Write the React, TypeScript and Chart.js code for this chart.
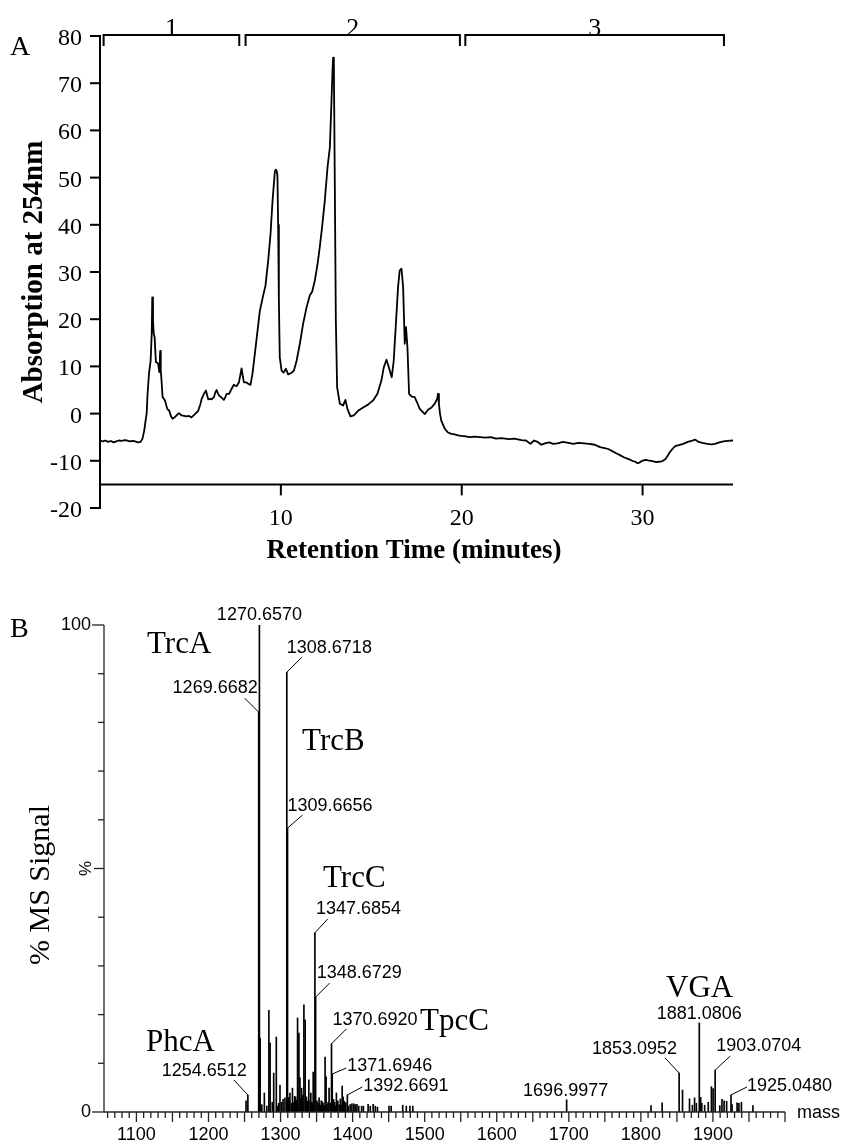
import React, { useEffect, useRef } from 'react';
import { Chart, registerables } from 'chart.js';
Chart.register(...registerables);

// ---------- Panel A: HPLC chromatogram ----------
const retentionMin = [
  0, 0.15, 0.3, 0.45, 0.6, 0.75, 0.9, 1.05, 1.2, 1.35, 1.5, 1.65, 1.8, 1.95, 2.1, 2.25, 2.35, 2.45, 2.52, 2.58,
  2.63, 2.71, 2.8, 2.86, 2.89, 2.93, 2.97, 3.02, 3.09, 3.16, 3.22, 3.28, 3.31, 3.33, 3.36, 3.39, 3.46, 3.59, 3.72, 3.83,
  3.92, 4.01, 4.12, 4.23, 4.36, 4.51, 4.65, 4.79, 4.92, 5.06, 5.25, 5.43, 5.55, 5.62, 5.75, 5.86, 5.93, 5.99, 6.08, 6.17,
  6.3, 6.38, 6.45, 6.52, 6.59, 6.72, 6.85, 6.93, 7.0, 7.14, 7.27, 7.4, 7.48, 7.55, 7.68, 7.76, 7.83, 7.9, 7.96, 8.1,
  8.2, 8.32, 8.43, 8.56, 8.69, 8.84, 9.02, 9.15, 9.3, 9.43, 9.54, 9.62, 9.67, 9.72, 9.77, 9.81, 9.85, 9.89, 9.94, 10.04,
  10.15, 10.28, 10.4, 10.58, 10.72, 10.87, 11.05, 11.23, 11.42, 11.6, 11.73, 11.88, 12.03, 12.15, 12.28, 12.43, 12.58, 12.71, 12.8, 12.86,
  12.89, 12.93, 12.98, 13.04, 13.11, 13.26, 13.44, 13.57, 13.68, 13.85, 14.03, 14.27, 14.55, 14.82, 15.1, 15.34, 15.56, 15.69, 15.84, 15.97,
  16.13, 16.24, 16.35, 16.48, 16.57, 16.67, 16.76, 16.85, 16.92, 17.0, 17.09, 17.24, 17.4, 17.53, 17.68, 17.96, 18.14, 18.33, 18.51, 18.65,
  18.69, 18.74, 18.8, 18.87, 19.06, 19.24, 19.43, 19.61, 19.8, 19.98, 20.2, 20.44, 20.7, 21.0, 21.3, 21.6, 21.9, 22.2, 22.6, 22.9,
  23.3, 23.55, 23.8, 24.0, 24.2, 24.4, 24.6, 24.84, 25.05, 25.3, 25.6, 25.9, 26.17, 26.45, 26.76, 27.05, 27.36, 27.65, 27.9, 28.1,
  28.3, 28.54, 28.75, 28.99, 29.2, 29.43, 29.6, 29.72, 29.82, 29.93, 30.05, 30.17, 30.3, 30.47, 30.6, 30.76, 30.9, 31.06, 31.17, 31.27,
  31.38, 31.5, 31.65, 31.8, 32.0, 32.25, 32.5, 32.7, 32.9, 33.1, 33.3, 33.58, 33.8, 34.0, 34.25, 34.47, 34.7, 35.0,
];
const absorbance254 = [
  -5.6, -5.9, -5.7, -6.0, -5.8, -6.1, -5.9, -5.7, -5.8, -5.6, -5.7, -5.9, -5.8, -5.9, -6.1, -6.0, -5.3, -3.5, -1.5, 0,
  4.2, 8.5, 11.2, 17, 24.6, 20, 16.9, 16.2, 10.9, 10.8, 10.5, 8.8, 12, 13.3, 9, 7.7, 3.5, 2.8, 1, 0.6,
  -0.5, -1.1, -0.8, -0.4, 0.1, -0.4, -0.5, -0.6, -0.5, -0.8, -0.1, 0.6, 2, 3.1, 4.2, 4.9, 3.8, 3, 3.1, 3,
  3.5, 4.5, 5, 4.3, 3.8, 3.4, 2.9, 3.5, 4.2, 4.2, 5.2, 6.1, 5.9, 5.8, 6.6, 8.2, 9.6, 7.8, 6.6, 6.6,
  6.3, 6.1, 8.4, 12.6, 16.9, 21.8, 25, 27.1, 32.4, 38.1, 45.1, 49, 51.3, 51.7, 51.4, 50.5, 40, 24, 11.9, 9.1,
  8.7, 9.5, 8.3, 8.6, 9.1, 11.2, 14.8, 19, 22.5, 25, 25.8, 28.2, 31.7, 35.2, 39.5, 45.1, 52.2, 56.4, 66.3, 73,
  75.4, 74.5, 50, 20, 5.6, 2.1, 1.7, 2.9, 1, -0.6, -0.4, 0.6, 1.3, 1.9, 2.8, 4.2, 7, 9.8, 11.4, 9.8,
  7.7, 11.2, 18.3, 26.8, 30.3, 30.7, 26.8, 14.8, 18.3, 14, 4.2, 3.6, 3.5, 2.4, 1, -0.1, 0.8, 1.3, 2.1, 3.2,
  4.2, 2, 0, -1.5, -3.2, -4, -4.3, -4.4, -4.6, -4.7, -4.8, -5.0, -4.9, -5.0, -5.1, -5.0, -5.3, -5.2, -5.4, -5.3,
  -5.6, -5.7, -6.4, -5.7, -6.0, -6.6, -6.3, -6.1, -6.4, -6.3, -6.0, -6.2, -6.4, -6.2, -6.3, -6.4, -6.6, -7.1, -7.3, -7.5,
  -7.9, -8.4, -8.8, -9.3, -9.6, -10.0, -10.2, -10.5, -10.4, -10.1, -9.9, -9.8, -9.9, -10.0, -10.1, -10.3, -10.2, -10.1, -9.9, -9.6,
  -9.0, -8.2, -7.5, -6.9, -6.7, -6.4, -6.0, -5.8, -5.5, -6.0, -6.2, -6.4, -6.5, -6.4, -6.1, -5.9, -5.8, -5.7,
];
const absTicks = [80, 70, 60, 50, 40, 30, 20, 10, 0, -10, -20];
const timeTicks = [10, 20, 30];
const fractionNames = ['1', '2', '3'];
const fractionStart = [0.2, 8.05, 20.2];
const fractionEnd = [7.7, 19.9, 34.5];

// ---------- Panel B: mass spectrum ----------
const msMass = [
  1252.1, 1254.6512, 1269.6682, 1270.657, 1271.66, 1274.0, 1277.5, 1281.0, 1283.8, 1285.5, 1288.5, 1290.5, 1294.1, 1296.0,
  1297.5, 1299.2, 1301.5, 1303.5, 1306.1, 1308.6718, 1309.6656, 1310.9, 1312.0, 1313.0, 1315.0, 1316.5, 1318.5, 1319.5,
  1320.9, 1322.0, 1323.6, 1325.5, 1326.9, 1328.0, 1329.2, 1331.0, 1332.4, 1334.2, 1335.0, 1336.0, 1337.5, 1339.2, 1341.0,
  1342.0, 1343.5, 1344.5, 1345.3, 1347.6854, 1348.6729, 1350.5, 1352.0, 1353.5, 1355.0, 1356.5, 1358.0, 1359.0, 1360.5,
  1361.8, 1363.2, 1364.5, 1366.0, 1367.3, 1369.5, 1370.692, 1371.6946, 1372.5, 1373.5, 1375.0, 1376.5, 1377.5, 1378.5,
  1379.5, 1381.5, 1383.0, 1384.5, 1385.5, 1387.0, 1388.5, 1389.5, 1390.5, 1392.6691, 1394.0, 1396.5, 1399.0, 1401.5,
  1403.5, 1406.0, 1408.5, 1412.5, 1415.0, 1421.5, 1424.5, 1428.5, 1431.5, 1434.5, 1450.5, 1453.5, 1469.5, 1474.5,
  1479.5, 1483.5, 1696.9977, 1814.1, 1829.5, 1853.0952, 1857.8, 1867.5, 1871.5, 1874.5, 1877.0, 1881.0806, 1883.0,
  1884.5, 1888.5, 1893.5, 1897.9, 1900.2, 1903.0704, 1909.5, 1912.5, 1915.5, 1919.0, 1925.048, 1926.5, 1933.5, 1936.0,
  1939.5, 1955.5,
];
const msSignal = [
  2.3, 3.5, 82.1, 100, 15.2, 1.5, 3.9, 1.2, 20.9, 14.2, 2.0, 8.0, 15.4, 1.2,
  1.8, 5.5, 2.0, 2.6, 2.9, 90.3, 58.3, 3.0, 2.5, 3.9, 1.8, 4.9, 2.0, 3.2,
  3.1, 2.4, 19.3, 16.2, 7.0, 2.8, 4.9, 3.5, 22.0, 18.9, 2.6, 3.1, 2.2, 6.6, 2.3,
  3.9, 2.0, 1.5, 8.2, 36.8, 23.6, 2.3, 1.8, 2.9, 1.4, 2.3, 2.1, 1.8, 1.2,
  11.3, 7.2, 1.5, 2.0, 4.9, 1.8, 14.0, 7.8, 1.6, 2.6, 2.0, 1.3, 3.9, 1.8,
  2.3, 1.5, 2.7, 1.4, 5.3, 3.1, 2.2, 1.6, 1.9, 3.5, 1.2, 1.5, 1.7, 1.7,
  1.5, 1.6, 1.2, 1.2, 1.2, 1.6, 1.2, 1.6, 1.2, 1.0, 1.2, 1.2, 1.4, 1.2,
  1.2, 1.2, 2.5, 1.3, 1.9, 8.0, 4.5, 2.7, 1.4, 2.9, 1.8, 18.3, 3.0,
  1.8, 1.4, 2.0, 5.2, 4.8, 8.6, 1.3, 2.6, 2.3, 2.2, 3.5, 1.5, 1.9, 1.8,
  2.0, 1.3,
];
const labeledMass = [
  1254.6512, 1269.6682, 1270.657, 1308.6718, 1309.6656, 1347.6854, 1348.6729, 1370.692,
  1371.6946, 1392.6691, 1696.9977, 1853.0952, 1881.0806, 1903.0704, 1925.048,
];
const compoundNames = ['TrcA', 'TrcB', 'TrcC', 'TpcC', 'PhcA', 'VGA'];
const massTicks = [1100, 1200, 1300, 1400, 1500, 1600, 1700, 1800, 1900];

// ---------- layout / style (not data) ----------
const SERIF = '"Liberation Serif", "Times New Roman", serif';
const SANS = '"Liberation Sans", Arial, sans-serif';
// text placement relative to each labelled peak top (px)
const peakLabelLayout = [
  { align: 'right', dx: -1, dy: -24, cx: -14, cy: -15 },
  { align: 'right', dx: -1, dy: -24, cx: -14, cy: -14 },
  { align: 'center', dx: 0, dy: -10 },
  { align: 'left', dx: 0, dy: -24, cx: 15, cy: -15 },
  { align: 'left', dx: 0, dy: -22, cx: 15, cy: -13 },
  { align: 'left', dx: 1, dy: -24, cx: 13, cy: -14 },
  { align: 'left', dx: 1, dy: -24, cx: 14, cy: -14 },
  { align: 'left', dx: 1, dy: -24, cx: 15, cy: -15 },
  { align: 'left', dx: 15, dy: -8, cx: 14, cy: -6 },
  { align: 'left', dx: 16, dy: -9, cx: 15, cy: -8 },
  { align: 'center', dx: -1, dy: -9 },
  { align: 'right', dx: -2, dy: -24, cx: -14, cy: -15 },
  { align: 'center', dx: 0, dy: -9 },
  { align: 'left', dx: 1, dy: -24, cx: 15, cy: -14 },
  { align: 'left', dx: 16, dy: -9, cx: 16, cy: -8 },
];
// compound name anchor (left/baseline) in axis units
const compoundAnchor = [
  [1114.7, 94.3], [1329.8, 74.3], [1358.9, 46.2], [1493.5, 16.8], [1113.3, 12.5], [1834.9, 23.6],
];

function line(ctx: CanvasRenderingContext2D, x1: number, y1: number, x2: number, y2: number) {
  ctx.beginPath();
  ctx.moveTo(x1, y1);
  ctx.lineTo(x2, y2);
  ctx.stroke();
}

const topDecor = {
  id: 'topDecor',
  afterDraw(chart: any) {
    const { ctx, scales } = chart;
    const x = scales.x, y = scales.y;
    ctx.save();
    ctx.strokeStyle = '#000';
    ctx.fillStyle = '#000';
    ctx.lineWidth = 2;
    const x0 = x.getPixelForValue(0);
    const yTop = y.getPixelForValue(80);
    const yBot = y.getPixelForValue(-20);
    line(ctx, x0, yTop - 1, x0, yBot + 1);
    ctx.font = `24px ${SERIF}`;
    ctx.textAlign = 'right';
    ctx.textBaseline = 'alphabetic';
    absTicks.forEach((v) => {
      const py = y.getPixelForValue(v);
      line(ctx, x0 - 10, py, x0, py);
      ctx.fillText(String(v), x0 - 18, py + 9);
    });
    const ax = y.getPixelForValue(-15);
    line(ctx, x0, ax, x.getPixelForValue(35), ax);
    ctx.textAlign = 'center';
    timeTicks.forEach((t) => {
      const px = x.getPixelForValue(t);
      line(ctx, px, ax, px, ax + 11);
      ctx.fillText(String(t), px, ax + 41);
    });
    // fraction brackets
    ctx.font = `26px ${SERIF}`;
    fractionNames.forEach((name, i) => {
      const xs = x.getPixelForValue(fractionStart[i]);
      const xe = x.getPixelForValue(fractionEnd[i]);
      const yb = yTop - 1;
      ctx.beginPath();
      ctx.moveTo(xs, yb + 11);
      ctx.lineTo(xs, yb);
      ctx.lineTo(xe, yb);
      ctx.lineTo(xe, yb + 11);
      ctx.stroke();
      ctx.fillText(name, (xs + xe) / 2, yb + 1);
    });
    // titles
    ctx.font = `bold 27px ${SERIF}`;
    ctx.fillText('Retention Time (minutes)', 414, 558);
    ctx.save();
    ctx.translate(42, 272);
    ctx.rotate(-Math.PI / 2);
    ctx.font = `bold 29px ${SERIF}`;
    ctx.fillText('Absorption at 254nm', 0, 0);
    ctx.restore();
    ctx.textAlign = 'left';
    ctx.font = `28px ${SERIF}`;
    ctx.fillText('A', 10, 55);
    ctx.restore();
  },
};

const bottomDecor = {
  id: 'bottomDecor',
  afterDraw(chart: any) {
    const { ctx, scales } = chart;
    const x = scales.x, y = scales.y;
    ctx.save();
    ctx.strokeStyle = '#222';
    ctx.fillStyle = '#000';
    ctx.lineWidth = 1.3;
    const x0 = chart.chartArea.left;
    const xEnd = chart.chartArea.right;
    const y0 = y.getPixelForValue(0);
    const y100 = y.getPixelForValue(100);
    line(ctx, x0, y100, x0, y0);
    line(ctx, x0, y0, xEnd, y0);
    for (let v = 0; v <= 100; v += 10) {
      const py = y.getPixelForValue(v);
      const len = v === 0 || v === 100 ? 12 : v === 50 ? 10 : 6;
      line(ctx, x0 - len, py, x0, py);
    }
    ctx.font = `18px ${SANS}`;
    ctx.textAlign = 'right';
    ctx.textBaseline = 'middle';
    ctx.fillText('100', x0 - 13, y100);
    ctx.fillText('0', x0 - 13, y0);
    ctx.save();
    ctx.translate(86, y.getPixelForValue(50));
    ctx.rotate(-Math.PI / 2);
    ctx.textAlign = 'center';
    ctx.font = `17px ${SANS}`;
    ctx.fillText('%', 0, 0);
    ctx.restore();
    // x ticks
    for (let m = 1060; m <= 2000; m += 10) {
      const px = x.getPixelForValue(m);
      const len = m % 50 === 0 ? 10 : 6;
      line(ctx, px, y0, px, y0 + len);
    }
    ctx.textAlign = 'center';
    ctx.textBaseline = 'alphabetic';
    massTicks.forEach((m) => {
      ctx.fillText(String(m), x.getPixelForValue(m), y0 + 28);
    });
    ctx.textAlign = 'left';
    ctx.textBaseline = 'middle';
    ctx.fillText('mass', 797, y0 + 1);
    // peak labels
    ctx.lineWidth = 1;
    ctx.strokeStyle = '#000';
    labeledMass.forEach((m, i) => {
      const idx = msMass.indexOf(m);
      const px = x.getPixelForValue(m);
      const py = y.getPixelForValue(msSignal[idx]);
      const L: any = peakLabelLayout[i];
      ctx.textAlign = L.align;
      ctx.fillText(m.toFixed(4), px + L.dx, py + L.dy);
      if (L.cx !== undefined) line(ctx, px + L.cx, py + L.cy, px, py);
    });
    // compound names
    ctx.font = `31px ${SERIF}`;
    ctx.textAlign = 'left';
    ctx.textBaseline = 'alphabetic';
    compoundNames.forEach((n, i) => {
      ctx.fillText(n, x.getPixelForValue(compoundAnchor[i][0]), y.getPixelForValue(compoundAnchor[i][1]));
    });
    // axis title (canvas coords: this canvas starts 575px down the page) and panel letter
    ctx.save();
    ctx.translate(49, 310);
    ctx.rotate(-Math.PI / 2);
    ctx.textAlign = 'center';
    ctx.font = `30px ${SERIF}`;
    ctx.fillText('% MS Signal', 0, 0);
    ctx.restore();
    ctx.font = `28px ${SERIF}`;
    ctx.fillText('B', 10, 62);
    ctx.restore();
  },
};

export default function App() {
  const topRef = useRef<HTMLCanvasElement>(null);
  const botRef = useRef<HTMLCanvasElement>(null);

  useEffect(() => {
    const top = new Chart(topRef.current as HTMLCanvasElement, {
      type: 'line',
      data: {
        datasets: [
          {
            data: retentionMin.map((t, i) => ({ x: t, y: absorbance254[i] })),
            borderColor: '#000',
            borderWidth: 1.8,
            pointRadius: 0,
            tension: 0,
            fill: false,
            borderJoinStyle: 'round',
          },
        ],
      },
      options: {
        responsive: false,
        animation: false,
        layout: { padding: { left: 100, right: 111, top: 36, bottom: 62 } },
        plugins: { legend: { display: false }, tooltip: { enabled: false } },
        scales: {
          x: { type: 'linear', min: 0, max: 35, display: false },
          y: { type: 'linear', min: -20, max: 80, display: false },
        },
      },
      plugins: [topDecor],
    } as any);

    const bottom = new Chart(botRef.current as HTMLCanvasElement, {
      type: 'bar',
      data: {
        datasets: [
          {
            data: msMass.map((m, i) => ({ x: m, y: msSignal[i] })),
            backgroundColor: '#000',
            borderWidth: 0,
            barThickness: 1,
            grouped: false,
          },
        ],
      },
      options: {
        responsive: false,
        animation: false,
        layout: { padding: { left: 104, right: 59, top: 50, bottom: 30 } },
        plugins: { legend: { display: false }, tooltip: { enabled: false } },
        scales: {
          x: { type: 'linear', min: 1055, max: 2000, offset: false, display: false },
          y: { type: 'linear', min: 0, max: 100, display: false },
        },
      },
      plugins: [bottomDecor],
    } as any);

    return () => {
      top.destroy();
      bottom.destroy();
    };
  }, []);

  return (
    <div style={{ position: 'absolute', left: 0, top: 0, width: 844, height: 1142, background: '#fff' }}>
      <canvas ref={topRef} width={844} height={570} style={{ position: 'absolute', left: 0, top: 0, width: 844, height: 570 }} />
      <canvas ref={botRef} width={844} height={567} style={{ position: 'absolute', left: 0, top: 575, width: 844, height: 567 }} />
    </div>
  );
}
